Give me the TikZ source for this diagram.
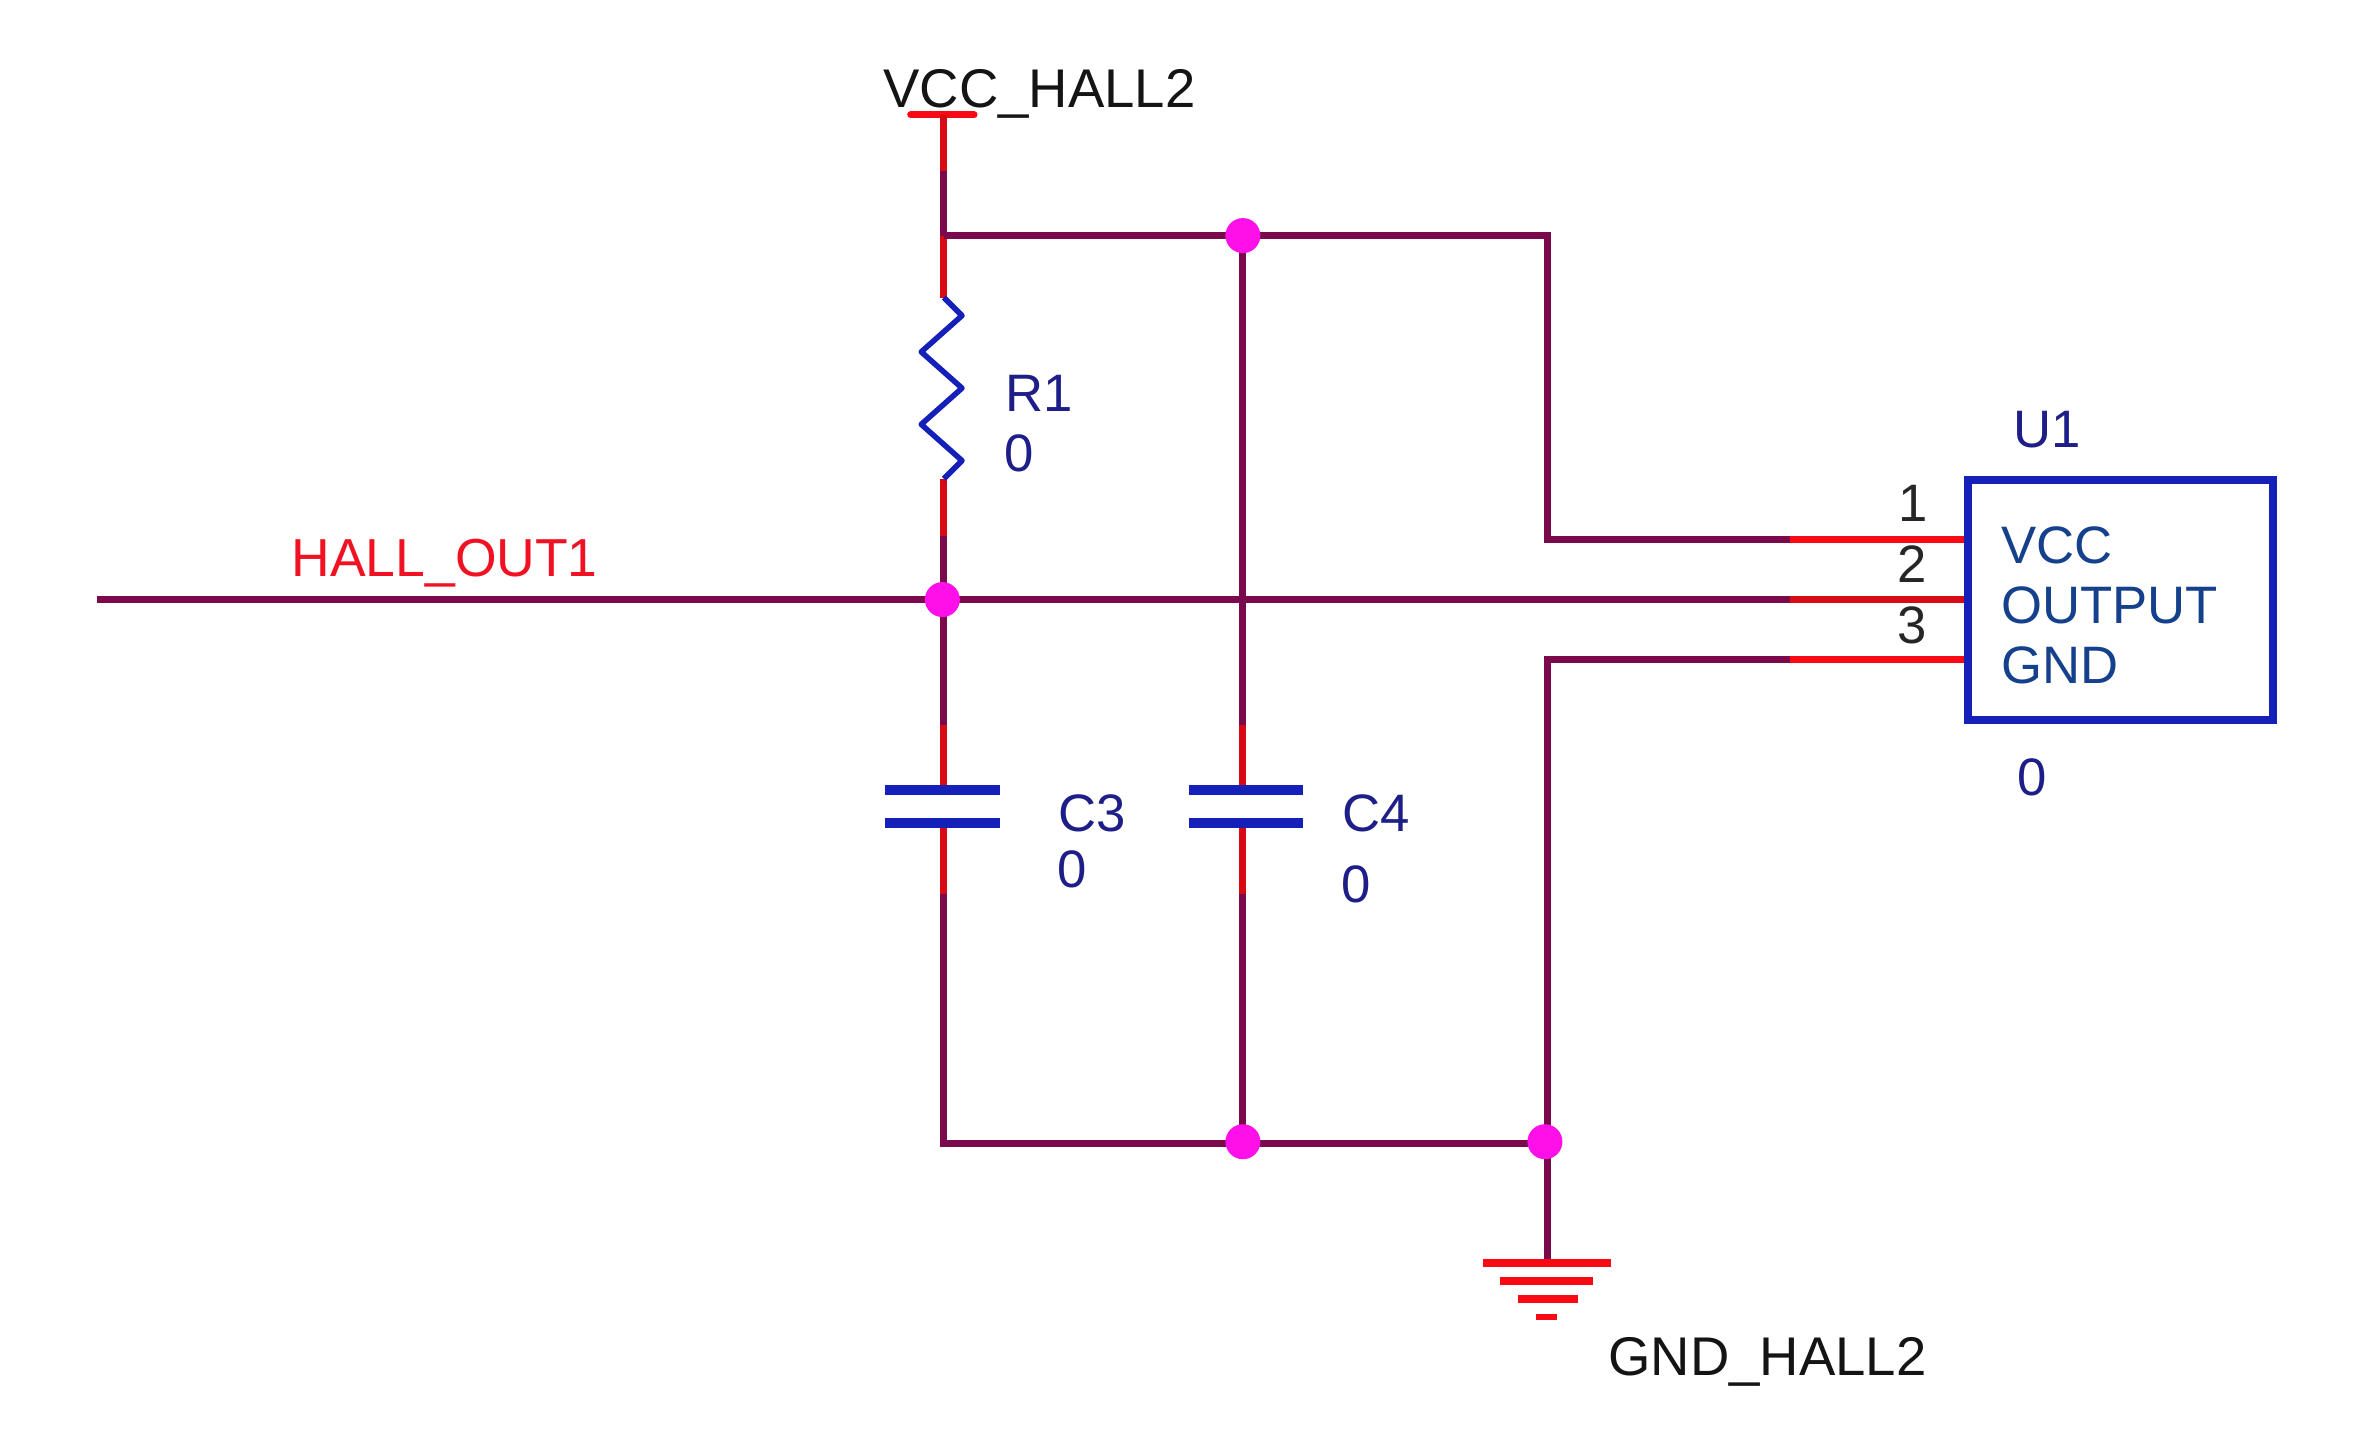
\documentclass[tikz,border=0pt]{standalone}
\usepackage{fontspec}
\setmainfont{Liberation Sans}
\definecolor{wiredark}{HTML}{7A0A4C}
\definecolor{wirered}{HTML}{D80A14}
\definecolor{pinred}{HTML}{F80A14}
\definecolor{partblue}{HTML}{1520B8}
\definecolor{labblue}{HTML}{1E1E88}
\definecolor{boxtext}{HTML}{15408C}
\definecolor{netred}{HTML}{F01222}
\definecolor{junc}{HTML}{FF10E8}
\newcommand{\bigf}{\fontsize{54.5}{60}\selectfont}
\newcommand{\redf}{\fontsize{53.5}{60}\selectfont}
\newcommand{\midf}{\fontsize{52.7}{58}\selectfont}
\tikzset{
  wire/.style={draw=wiredark,line width=7pt,line cap=butt,line join=miter},
  redwire/.style={draw=wirered,line width=7pt,line cap=butt},
  pinwire/.style={draw=pinred,line width=7pt,line cap=butt},
  plate/.style={draw=partblue,line width=9.5pt,line cap=butt},
  gndbar/.style={draw=pinred,line width=8pt,line cap=butt},
  junction/.style={circle,fill=junc,draw=none,minimum size=35pt,inner sep=0pt},
  lab/.style={anchor=base west,inner sep=0pt,outer sep=0pt},
  netblack/.style={lab,text=black!92,font=\bigf},
  netredlab/.style={lab,text=netred,font=\redf},
  refblue/.style={lab,text=labblue,font=\midf},
  pintext/.style={lab,text=boxtext,font=\midf},
  pinnum/.style={lab,text=black!85,font=\midf}
}
\begin{document}
\begin{tikzpicture}[x=1.5102pt,y=-1.5102pt]
\useasboundingbox (0,0) rectangle (1568,950.9);
% named points
\coordinate (vccL) at (603,76); \coordinate (vccR) at (645,76);
\coordinate (vcc) at (625,76); \coordinate (v1) at (625,113);
\coordinate (tee) at (625,156); \coordinate (rtop) at (625,197);
\coordinate (rbot) at (625,317); \coordinate (r2) at (625,355);
\coordinate (outL) at (64,397); \coordinate (outN) at (625,397);
\coordinate (tr) at (1025,156); \coordinate (p1a) at (1025,357);
\coordinate (p1b) at (1185,357); \coordinate (p1c) at (1303,357);
\coordinate (p2b) at (1185,397); \coordinate (p2c) at (1303,397);
\coordinate (p3a) at (1025,437); \coordinate (p3b) at (1185,437);
\coordinate (p3c) at (1303,437); \coordinate (gtop) at (1025,836);
\coordinate (c3a) at (625,480); \coordinate (c3t) at (625,523);
\coordinate (c3b) at (625,545); \coordinate (c3c) at (625,592);
\coordinate (c3d) at (625,757);
\coordinate (c4a) at (823,480); \coordinate (c4t) at (823,523);
\coordinate (c4b) at (823,545); \coordinate (c4c) at (823,592);
\coordinate (jtopc) at (823,156); \coordinate (jbotc) at (823,757);
\coordinate (jgndc) at (1025,757);
% wires
\draw[pinwire,line cap=round] (vccL) -- (vccR);
\draw[redwire] (vcc) -- (v1);
\draw[wire] (v1) -- (tee);
\draw[redwire] (tee) -- (rtop);
\draw[redwire] (rbot) -- (r2);
\draw[wire] (r2) -- (outN);
\draw[wire] (tee) -- (tr) -- (p1a) -- (p1b);
\draw[pinwire] (p1b) -- (p1c);
\draw[wire] (outL) -- (p2b);
\draw[redwire] (p2b) -- (p2c);
\draw[wire] (p3b) -- (p3a) -- (gtop);
\draw[pinwire] (p3b) -- (p3c);
\draw[wire] (jtopc) -- (c4a);
\draw[redwire] (c4a) -- (c4t);
\draw[redwire] (c4b) -- (c4c);
\draw[wire] (c4c) -- (jbotc);
\draw[wire] (outN) -- (c3a);
\draw[redwire] (c3a) -- (c3t);
\draw[redwire] (c3b) -- (c3c);
\draw[wire] (c3c) -- (c3d) -- (jgndc);
% box
\node[draw=partblue,line width=8pt,minimum width=305pt,minimum height=240pt,inner sep=0pt,outer sep=0pt,anchor=north west] (u1) at (1303,318) {};
% junctions
\node[junction] (jtop) at (823,156) {};
\node[junction] (jbot) at (823,756) {};
\node[junction] (jout) at (624,397) {};
\node[junction] (jgnd) at (1023,756) {};
% resistor
\draw[draw=partblue,line width=5.5pt,line join=round] (rtop) -- (637,209) -- (610,233) -- (637,257) -- (610,281) -- (637,305) -- (rbot);
% capacitors
\draw[plate] (586,523) -- (662,523);
\draw[plate] (586,545) -- (662,545);
\draw[plate] (787,523) -- (863,523);
\draw[plate] (787,545) -- (863,545);
% ground
\draw[gndbar] (982,836) -- (1067,836);
\draw[gndbar] (993,848) -- (1055,848);
\draw[gndbar] (1005,860) -- (1045,860);
\draw[gndbar,line width=6pt] (1017,872) -- (1031,872);
% labels
\node[netblack] (lvcc) at (585,71) {VCC\_HALL2};
\node[netredlab] (lout) at (193,381.5) {HALL\_OUT1};
\node[netblack] (lgnd) at (1065,911) {GND\_HALL2};
\node[refblue] (lr1) at (666,272.5) {R1};
\node[refblue] (lr1v) at (665,312.5) {0};
\node[refblue] (lc3) at (701,550.5) {C3};
\node[refblue] (lc3v) at (700,587.5) {0};
\node[refblue] (lc4) at (889,550.5) {C4};
\node[refblue] (lc4v) at (888,597.5) {0};
\node[refblue] (lu1) at (1333,296) {U1};
\node[refblue] (lu1v) at (1336,527) {0};
\node[pintext] (lp1) at (1325,373) {VCC};
\node[pintext] (lp2) at (1325,413) {OUTPUT};
\node[pintext] (lp3) at (1325,452.5) {GND};
\node[pinnum] (n1) at (1257,345.5) {1};
\node[pinnum] (n2) at (1256.5,385.5) {2};
\node[pinnum] (n3) at (1256.5,426) {3};
\end{tikzpicture}
\end{document}
